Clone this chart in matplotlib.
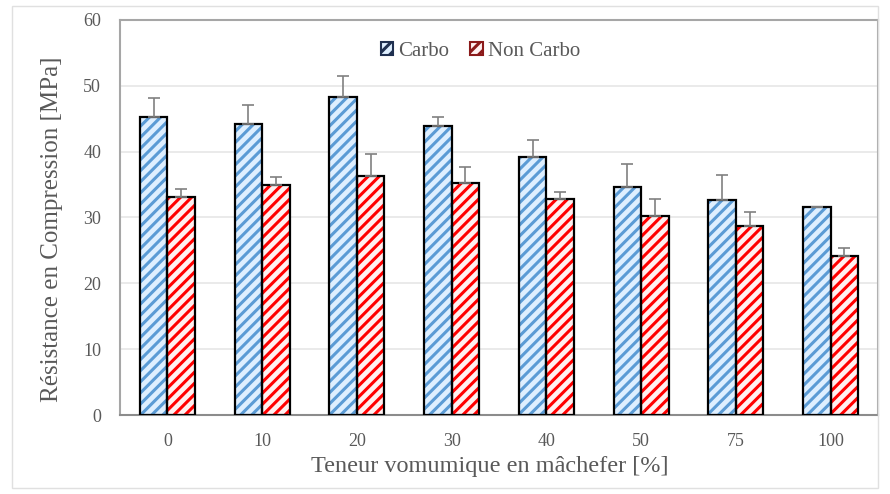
import matplotlib
matplotlib.use("Agg")
import matplotlib.pyplot as plt
import numpy as np
from matplotlib.patches import Rectangle

plt.rcParams['font.family'] = ['Liberation Serif', 'DejaVu Serif']
plt.rcParams['hatch.linewidth'] = 2.2

categories = ["0", "10", "20", "30", "40", "50", "75", "100"]
carbo = [45.2, 44.2, 48.3, 43.9, 39.2, 34.6, 32.7, 31.6]
carbo_err = [3.0, 2.9, 3.2, 1.3, 2.6, 3.6, 3.8, 0.0]
noncarbo = [33.1, 35.0, 36.3, 35.2, 32.8, 30.3, 28.7, 24.1]
noncarbo_err = [1.2, 1.1, 3.3, 2.4, 1.0, 2.5, 2.1, 1.3]

text_color = "#595959"
fig = plt.figure(figsize=(8.9, 4.94), dpi=100)
ax = fig.add_axes([120/890, 1-415/494, 758/890, 395/494])

x = np.arange(len(categories))
w = 0.29

blue_face = "#deefff"
blue_hatch = "#5b9bd5"
red_face = "#fff0f0"
red_hatch = "#ff0000"

# hatched fills
ax.bar(x - w/2, carbo, w, facecolor=blue_face, edgecolor=blue_hatch, hatch="///", linewidth=0, zorder=2)
ax.bar(x + w/2, noncarbo, w, facecolor=red_face, edgecolor=red_hatch, hatch="///", linewidth=0, zorder=2)
# outlines
ax.bar(x - w/2, carbo, w, fill=False, edgecolor="black", linewidth=1.6, zorder=3)
ax.bar(x + w/2, noncarbo, w, fill=False, edgecolor="black", linewidth=1.6, zorder=3)

# error bars (upper only)
ax.errorbar(x - w/2, carbo, yerr=[np.zeros(len(carbo)), carbo_err], fmt="none",
            ecolor="#808080", elinewidth=1.2, capsize=4, capthick=1.2, zorder=4)
ax.errorbar(x + w/2, noncarbo, yerr=[np.zeros(len(noncarbo)), noncarbo_err], fmt="none",
            ecolor="#808080", elinewidth=1.2, capsize=4, capthick=1.2, zorder=4)

ax.set_xlim(-0.5, len(categories) - 0.5)
ax.set_ylim(0, 60)
ax.set_yticks(np.arange(0, 61, 10))
ax.set_xticks(x)
ax.set_xticklabels(categories)
ax.yaxis.grid(True, color="#e6e6e6", linewidth=1.2, zorder=0)
ax.set_axisbelow(True)
ax.tick_params(axis="both", length=0, labelsize=13, colors=text_color)
ax.tick_params(axis="x", pad=13)
ax.tick_params(axis="y", pad=13.5)
for s in ["top", "right", "left"]:
    ax.spines[s].set_color("#a6a6a6")
    ax.spines[s].set_linewidth(1.5)
ax.spines["bottom"].set_color("#8c8c8c")
ax.spines["bottom"].set_linewidth(1.5)

ax.set_xlabel("Teneur vomumique en mâchefer [%]", fontsize=17.5, color=text_color)
ax.set_ylabel("Résistance en Compression [MPa]", fontsize=18, color=text_color)
ax.xaxis.set_label_coords(0.4875, -0.104)
ax.yaxis.set_label_coords(-0.075, 0.47)

h1 = Rectangle((0, 0), 1, 1, facecolor=blue_face, edgecolor="#1f3050", hatch="///", linewidth=1.5)
h2 = Rectangle((0, 0), 1, 1, facecolor=red_face, edgecolor="#8b1a1a", hatch="///", linewidth=1.5)
leg = ax.legend([h1, h2], ["Carbo", "Non Carbo"], loc="center", bbox_to_anchor=(0.4756, 0.92),
                ncol=2, frameon=False, fontsize=15, handlelength=0.6, handleheight=0.6,
                handletextpad=0.25, columnspacing=1.0)
for t in leg.get_texts():
    t.set_color(text_color)

fig.patches.append(Rectangle((12/890, 6/494), 866/890, 482/494, transform=fig.transFigure,
                             fill=False, edgecolor="#e0e0e0", linewidth=1))

fig.savefig("out.png", dpi=100)
